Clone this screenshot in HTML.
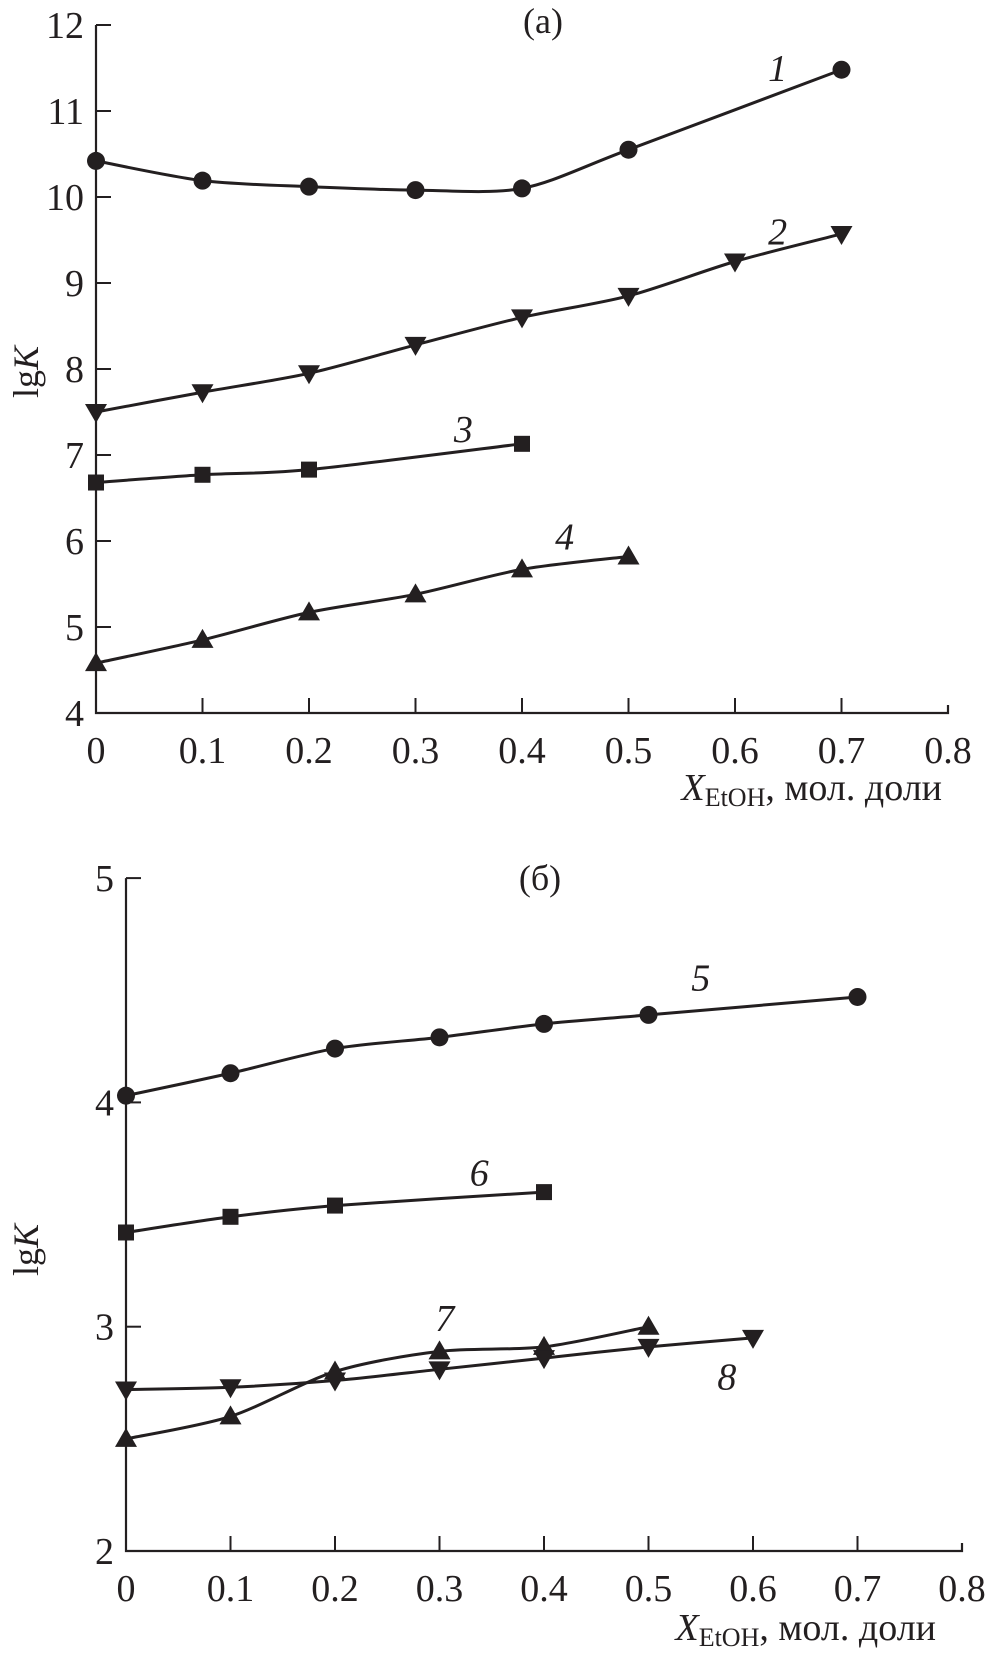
<!DOCTYPE html>
<html><head><meta charset="utf-8"><style>
html,body{margin:0;padding:0;background:#fff}
svg{display:block}
text{font-family:"Liberation Serif",serif;fill:#231f20}
</style></head><body>
<svg id="c" width="990" height="1654" viewBox="0 0 990 1654"></svg>
<script>
const xTicks=[0,0.1,0.2,0.3,0.4,0.5,0.6,0.7,0.8];
const xTickLabels=["0","0.1","0.2","0.3","0.4","0.5","0.6","0.7","0.8"];
const yTicksA=[4,5,6,7,8,9,10,11,12];
const yTicksB=[2,3,4,5];
const s1x=[0,0.1,0.2,0.3,0.4,0.5,0.7], s1y=[10.42,10.19,10.12,10.08,10.10,10.55,11.48];
const s2x=[0,0.1,0.2,0.3,0.4,0.5,0.6,0.7], s2y=[7.5,7.73,7.95,8.28,8.6,8.85,9.25,9.57];
const s3x=[0,0.1,0.2,0.4], s3y=[6.68,6.77,6.83,7.13];
const s4x=[0,0.1,0.2,0.3,0.4,0.5], s4y=[4.58,4.85,5.17,5.38,5.67,5.82];
const s5x=[0,0.1,0.2,0.3,0.4,0.5,0.7], s5y=[4.03,4.13,4.24,4.29,4.35,4.39,4.47];
const s6x=[0,0.1,0.2,0.4], s6y=[3.42,3.49,3.54,3.6];
const s7x=[0,0.1,0.2,0.3,0.4,0.5], s7y=[2.5,2.6,2.8,2.89,2.91,3.0];
const s8x=[0,0.1,0.2,0.3,0.4,0.5,0.6], s8y=[2.72,2.73,2.76,2.81,2.86,2.91,2.95];

const NS="http://www.w3.org/2000/svg";
const svg=document.getElementById('c');
function el(t,a,p){const e=document.createElementNS(NS,t);for(const k in a)e.setAttribute(k,a[k]);(p||svg).appendChild(e);return e;}

function panel(cfg){
  const g=el('g',{});
  
  
  const X=v=>cfg.x0+v*cfg.xs, Y=v=>cfg.y0-(v-cfg.ymin)*cfg.ys;
  const ax=el('path',{d:`M${X(0)},${Y(cfg.ymax)}V${Y(cfg.ymin)}H${X(0.8)}V${Y(cfg.ymin)-8}`,stroke:'#231f20','stroke-width':2.2,fill:'none'},g);
  
  
  xTicks.forEach((v,i)=>{
    if(i>0&&i<8) el('line',{x1:X(v),x2:X(v),y1:Y(cfg.ymin),y2:Y(cfg.ymin)-15,stroke:'#231f20','stroke-width':2},g);
    const t=el('text',{x:X(v),y:Y(cfg.ymin)+50,'text-anchor':'middle','font-size':38},g);
    t.textContent=xTickLabels[i];
    
    
  });
  cfg.yt.forEach(v=>{
    if(v>cfg.ymin) el('line',{x1:X(0),x2:X(0)+15,y1:Y(v),y2:Y(v),stroke:'#231f20','stroke-width':2},g);
    const t=el('text',{x:X(0)-12,y:Y(v)+13,'text-anchor':'end','font-size':38},g);
    t.textContent=String(v);
    
    
  });
  const yl=el('text',{x:0,y:0,'text-anchor':'middle','font-size':36,transform:`translate(38,${cfg.ylabY}) rotate(-90)`},g);
  yl.innerHTML='lg<tspan font-style="italic">K</tspan>';
  
  
  const xl=el('text',{x:cfg.xlabX,y:cfg.xlabY,'text-anchor':'end','font-size':38},g);
  xl.innerHTML='<tspan font-style="italic">X</tspan><tspan font-size="26" dy="6">EtOH</tspan><tspan dy="-6">, мол. доли</tspan>';
  
  
  const pt=el('text',{x:cfg.titleX,y:cfg.titleY,'text-anchor':'middle','font-size':36},g);
  pt.textContent=cfg.title;
  
  
  cfg.series.forEach(s=>{
    const P=s.x.map((v,i)=>[X(v),Y(s.y[i])]);
    let d=`M${P[0][0]},${P[0][1]}`;
    for(let i=0;i<P.length-1;i++){
      const p0=P[Math.max(0,i-1)],p1=P[i],p2=P[i+1],p3=P[Math.min(P.length-1,i+2)];
      const c1=[p1[0]+(p2[0]-p0[0])/7,p1[1]+(p2[1]-p0[1])/7];
      const c2=[p2[0]-(p3[0]-p1[0])/7,p2[1]-(p3[1]-p1[1])/7];
      d+=`C${c1[0]},${c1[1]} ${c2[0]},${c2[1]} ${p2[0]},${p2[1]}`;
    }
    const ln=el('path',{d,stroke:'#231f20','stroke-width':3,fill:'none'},g);
    
    
    P.forEach(p=>{
      let m;const [x,y]=p;
      if(s.m==='c') m=el('circle',{cx:x,cy:y,r:9},g);
      else if(s.m==='s') m=el('rect',{x:x-8,y:y-8,width:16,height:16},g);
      else if(s.m==='u') m=el('path',{d:`M${x},${y-11}L${x+11},${y+8}L${x-11},${y+8}Z`},g);
      else m=el('path',{d:`M${x},${y+11}L${x+11},${y-8}L${x-11},${y-8}Z`},g);
      m.setAttribute('fill','#231f20');
      
      
    });
    const lb=el('text',{x:X(s.lx),y:Y(s.ly),'text-anchor':'middle','font-size':38,'font-style':'italic'},g);
    lb.textContent=s.label;
    
    
  });
}
panel({name:'panel-a',x0:96,xs:1065,y0:713,ymin:4,ymax:12,ys:86,yt:yTicksA,ylabY:372,xlabX:942,xlabY:800,title:'(а)',titleX:543,titleY:33,
  series:[
    {x:s1x,y:s1y,m:'c',label:'1',lx:0.64,ly:11.35},
    {x:s2x,y:s2y,m:'d',label:'2',lx:0.64,ly:9.45},
    {x:s3x,y:s3y,m:'s',label:'3',lx:0.345,ly:7.15},
    {x:s4x,y:s4y,m:'u',label:'4',lx:0.44,ly:5.9}]});
panel({name:'panel-b',x0:126,xs:1045,y0:1551,ymin:2,ymax:5,ys:224.3,yt:yTicksB,ylabY:1250,xlabX:936,xlabY:1640,title:'(б)',titleX:540,titleY:890,
  series:[
    {x:s5x,y:s5y,m:'c',label:'5',lx:0.55,ly:4.5},
    {x:s6x,y:s6y,m:'s',label:'6',lx:0.338,ly:3.63},
    {x:s7x,y:s7y,m:'u',label:'7',lx:0.305,ly:2.98},
    {x:s8x,y:s8y,m:'d',label:'8',lx:0.575,ly:2.72}]});
</script>
</body></html>
